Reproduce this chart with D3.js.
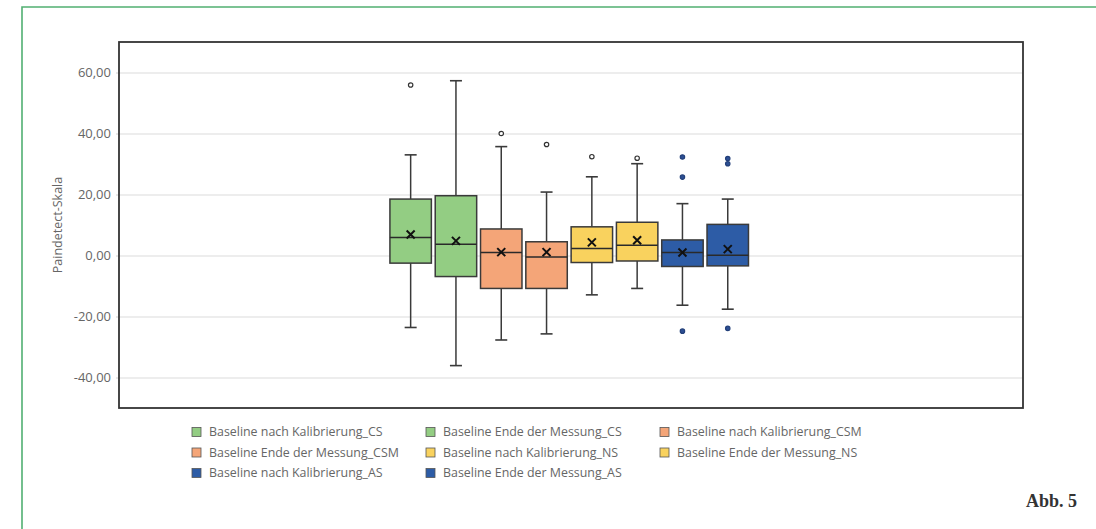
<!DOCTYPE html>
<html>
<head>
<meta charset="utf-8">
<script src="https://cdn.jsdelivr.net/npm/d3@7"></script>
<style>
  html, body { margin: 0; padding: 0; background: #fff; }
  svg { display: block; }
</style>
</head>
<body>
<svg id="chart" width="1096" height="529"></svg>
<script>
// Box plot statistics per group (Paindetect-Skala)
const categories = [
  "Baseline nach Kalibrierung_CS",
  "Baseline Ende der Messung_CS",
  "Baseline nach Kalibrierung_CSM",
  "Baseline Ende der Messung_CSM",
  "Baseline nach Kalibrierung_NS",
  "Baseline Ende der Messung_NS",
  "Baseline nach Kalibrierung_AS",
  "Baseline Ende der Messung_AS"
];
const whiskerLow  = [-23.6, -36.1, -27.7, -25.7, -12.9, -10.8, -16.3, -17.6];
const quartile1   = [ -2.5,  -6.9, -10.8, -10.8,  -2.3,  -1.8,  -3.6,  -3.4];
const medians     = [  5.9,   3.7,   1.0,  -0.5,   2.3,   3.4,   1.0,   0.1];
const quartile3   = [ 18.5,  19.6,   8.7,   4.5,   9.4,  10.9,   5.1,  10.2];
const whiskerHigh = [ 33.0,  57.3,  35.7,  20.8,  25.8,  30.1,  17.0,  18.5];
const means       = [  6.9,   4.8,   1.1,   1.1,   4.3,   5.0,   1.0,   2.1];
const outliers    = [[55.9], [], [40.0], [36.4], [32.4], [31.9], [32.3, 25.7, -24.8], [31.8, 30.1, -23.9]];
const groupColors = ["#93cd83", "#93cd83", "#f4a578", "#f4a578", "#f9d25e", "#f9d25e", "#2d5ca6", "#2d5ca6"];
const yTicks = [-40, -20, 0, 20, 40, 60];
const yDomain = [-50, 70];
const yTitle = "Paindetect-Skala";
const figLabel = "Abb. 5";

const svg = d3.select("#chart");
const font = "'Open Sans', 'Noto Sans', sans-serif";

// page frame (green rule at top and left)
svg.append("path")
  .attr("d", "M22,540 L22,7 L1100,7")
  .attr("fill", "none")
  .attr("stroke", "#52b072")
  .attr("stroke-width", 1.6);

const plot = { left: 119, top: 42, right: 1023, bottom: 408 };

const y = d3.scaleLinear().domain(yDomain).range([plot.bottom, plot.top]);
const x = d3.scaleBand()
  .domain(categories)
  .range([388, 750.4])
  .paddingInner(0.085)
  .paddingOuter(0.0425);

const loc = d3.formatLocale({ decimal: ",", thousands: ".", grouping: [3], currency: ["", ""], minus: "-" });
const fmt = loc.format(".2f");

// grid lines
const grid = svg.append("g")
  .attr("transform", `translate(${plot.left},0)`)
  .call(d3.axisRight(y).tickValues(yTicks).tickSize(plot.right - plot.left).tickFormat(""));
grid.select(".domain").remove();
grid.selectAll(".tick line").attr("stroke", "#dcdcdc").attr("stroke-width", 1.2);

// y axis labels
const yAxis = svg.append("g")
  .attr("transform", `translate(${plot.left},0)`)
  .call(d3.axisLeft(y).tickValues(yTicks).tickSizeInner(3).tickSizeOuter(0).tickPadding(5).tickFormat(fmt));
yAxis.select(".domain").remove();
yAxis.selectAll(".tick line").attr("stroke", "#d0d0d0");
yAxis.selectAll(".tick text")
  .attr("font-family", font)
  .attr("font-size", 13)
  .attr("fill", "#666");

// y axis title
svg.append("text")
  .attr("transform", `translate(62,${(y(60) + y(-40)) / 2}) rotate(-90)`)
  .attr("text-anchor", "middle")
  .attr("font-family", font)
  .attr("font-size", 12.5)
  .attr("fill", "#666")
  .text(yTitle);

// boxes
const bw = x.bandwidth();
const capW = 12;
const groups = svg.append("g").selectAll("g")
  .data(categories.map((c, i) => ({ c, i })))
  .join("g")
  .attr("transform", d => `translate(${x(d.c) + bw / 2},0)`);

const wStroke = "#3a3a3a";
// whiskers
groups.append("line")
  .attr("y1", d => y(quartile3[d.i])).attr("y2", d => y(whiskerHigh[d.i]))
  .attr("stroke", wStroke).attr("stroke-width", 1.5);
groups.append("line")
  .attr("y1", d => y(quartile1[d.i])).attr("y2", d => y(whiskerLow[d.i]))
  .attr("stroke", wStroke).attr("stroke-width", 1.5);
groups.append("line")
  .attr("x1", -capW / 2).attr("x2", capW / 2)
  .attr("y1", d => y(whiskerHigh[d.i])).attr("y2", d => y(whiskerHigh[d.i]))
  .attr("stroke", wStroke).attr("stroke-width", 1.6);
groups.append("line")
  .attr("x1", -capW / 2).attr("x2", capW / 2)
  .attr("y1", d => y(whiskerLow[d.i])).attr("y2", d => y(whiskerLow[d.i]))
  .attr("stroke", wStroke).attr("stroke-width", 1.6);

// box body
groups.append("rect")
  .attr("x", -bw / 2)
  .attr("width", bw)
  .attr("y", d => y(quartile3[d.i]))
  .attr("height", d => y(quartile1[d.i]) - y(quartile3[d.i]))
  .attr("fill", d => groupColors[d.i])
  .attr("stroke", "#3a3a3a")
  .attr("stroke-width", 1.5);

// median
groups.append("line")
  .attr("x1", -bw / 2).attr("x2", bw / 2)
  .attr("y1", d => y(medians[d.i])).attr("y2", d => y(medians[d.i]))
  .attr("stroke", "#2a2a2a").attr("stroke-width", 1.5);

// mean marker (X)
const m = 4;
groups.append("path")
  .attr("d", d => {
    const cy = y(means[d.i]);
    return `M${-m},${cy - m}L${m},${cy + m}M${-m},${cy + m}L${m},${cy - m}`;
  })
  .attr("stroke", "#111").attr("stroke-width", 2).attr("fill", "none");

// outliers
groups.each(function (d) {
  const g = d3.select(this);
  const blue = d.i >= 6;
  g.selectAll("circle")
    .data(outliers[d.i])
    .join("circle")
    .attr("cx", 0)
    .attr("cy", v => y(v))
    .attr("r", 2.2)
    .attr("fill", blue ? "#2d4f94" : "#fff")
    .attr("stroke", blue ? "#23407a" : "#333")
    .attr("stroke-width", 1.2);
});

// plot frame
svg.append("rect")
  .attr("x", plot.left).attr("y", plot.top)
  .attr("width", plot.right - plot.left)
  .attr("height", plot.bottom - plot.top)
  .attr("fill", "none")
  .attr("stroke", "#333")
  .attr("stroke-width", 1.8);

// legend
const legCols = [192, 426, 660];
const legRows = [432, 452.5, 473];
const legend = svg.append("g").selectAll("g")
  .data(categories.map((c, i) => ({ c, i })))
  .join("g")
  .attr("transform", d => `translate(${legCols[d.i % 3]},${legRows[Math.floor(d.i / 3)]})`);
legend.append("rect")
  .attr("x", 0).attr("y", -4.5)
  .attr("width", 9).attr("height", 9)
  .attr("fill", d => groupColors[d.i])
  .attr("stroke", "#555")
  .attr("stroke-width", 0.8);
legend.append("text")
  .attr("x", 17)
  .attr("y", 0)
  .attr("dy", "0.35em")
  .attr("font-family", font)
  .attr("font-size", 12.4)
  .attr("fill", "#666")
  .text(d => d.c);

// figure label
svg.append("text")
  .attr("x", 1077)
  .attr("y", 507)
  .attr("text-anchor", "end")
  .attr("font-family", "'Liberation Serif', 'DejaVu Serif', serif")
  .attr("font-weight", "bold")
  .attr("font-size", 18)
  .attr("fill", "#333")
  .text(figLabel);
</script>
</body>
</html>
